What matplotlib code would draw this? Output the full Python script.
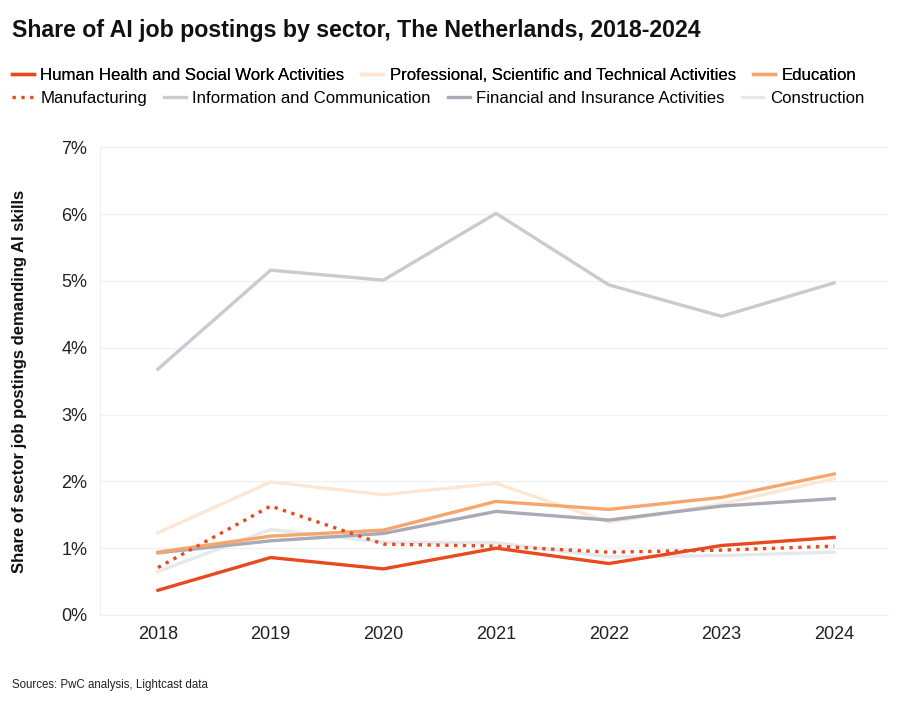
import matplotlib.pyplot as plt
from matplotlib.ticker import FuncFormatter

plt.rcParams['font.family'] = ['Liberation Sans', 'DejaVu Sans']

years = [2018, 2019, 2020, 2021, 2022, 2023, 2024]

health = [0.37, 0.86, 0.69, 1.00, 0.77, 1.04, 1.16]
professional = [1.23, 1.99, 1.80, 1.97, 1.39, 1.66, 2.04]
education = [0.94, 1.18, 1.27, 1.70, 1.58, 1.76, 2.11]
manufacturing = [0.71, 1.63, 1.06, 1.03, 0.94, 0.97, 1.03]
information = [3.68, 5.16, 5.01, 6.01, 4.94, 4.47, 4.97]
financial = [0.93, 1.11, 1.22, 1.55, 1.42, 1.63, 1.74]
construction = [0.65, 1.28, 1.09, 1.08, 0.87, 0.89, 0.94]

row1 = [
    ('Human Health and Social Work Activities', health, '#E8491D', '-', 6),
    ('Professional, Scientific and Technical Activities', professional, '#FDE6D3', '-', 2),
    ('Education', education, '#F6A66C', '-', 4),
]
row2 = [
    ('Manufacturing', manufacturing, '#E8491D', ':', 5),
    ('Information and Communication', information, '#C9CAD2', '-', 2),
    ('Financial and Insurance Activities', financial, '#A9AAB5', '-', 3),
    ('Construction', construction, '#E6E8EC', '-', 1),
]

fig = plt.figure(figsize=(9, 7.01), dpi=100)
ax = fig.add_axes([0.111, 0.1227, 0.876, 0.6673])

handles1, handles2 = [], []
for name, vals, col, ls, z in row1:
    h, = ax.plot(years, vals, color=col, ls=ls, lw=2.4, label=name, zorder=z)
    handles1.append(h)
for name, vals, col, ls, z in row2:
    h, = ax.plot(years, vals, color=col, ls=ls, lw=2.4, label=name, zorder=z)
    handles2.append(h)

ax.set_xlim(2017.485, 2024.48)
ax.set_ylim(0, 7)
ax.set_xticks(years)
ax.set_yticks(range(0, 8))
ax.yaxis.set_major_formatter(FuncFormatter(lambda v, p: f'{int(v)}%'))
ax.grid(axis='y', color='#F0F0F0', lw=1)
ax.set_axisbelow(True)
for s in ['top', 'right']:
    ax.spines[s].set_visible(False)
for s in ['left', 'bottom']:
    ax.spines[s].set_color('#F0F0F0')
ax.tick_params(length=0, labelsize=13, colors='#222222')
ax.tick_params(axis='y', pad=9)
ax.tick_params(axis='x', pad=8)
ax.set_ylabel('Share of sector job postings demanding AI skills',
              fontsize=12, fontweight='bold', color='#111111')
ax.yaxis.set_label_coords(-0.093, 0.5)

fig.text(0.013, 0.973, 'Share of AI job postings by sector, The Netherlands, 2018-2024',
         fontsize=16.7, fontweight='bold', va='top', color='#111111')

leg_kw = dict(loc='upper left', frameon=False, fontsize=12.1, handlelength=1.3,
              handletextpad=0.4, columnspacing=1.0, borderaxespad=0, borderpad=0)
l1 = fig.legend(handles=handles1, ncol=3, bbox_to_anchor=(0.013, 0.903), **leg_kw)
fig.add_artist(l1)
fig.legend(handles=handles2, ncol=4, bbox_to_anchor=(0.013, 0.870), **leg_kw)

fig.text(0.013, 0.018, 'Sources: PwC analysis, Lightcast data', fontsize=8.3, color='#222222')

fig.savefig('out.png', dpi=100)
